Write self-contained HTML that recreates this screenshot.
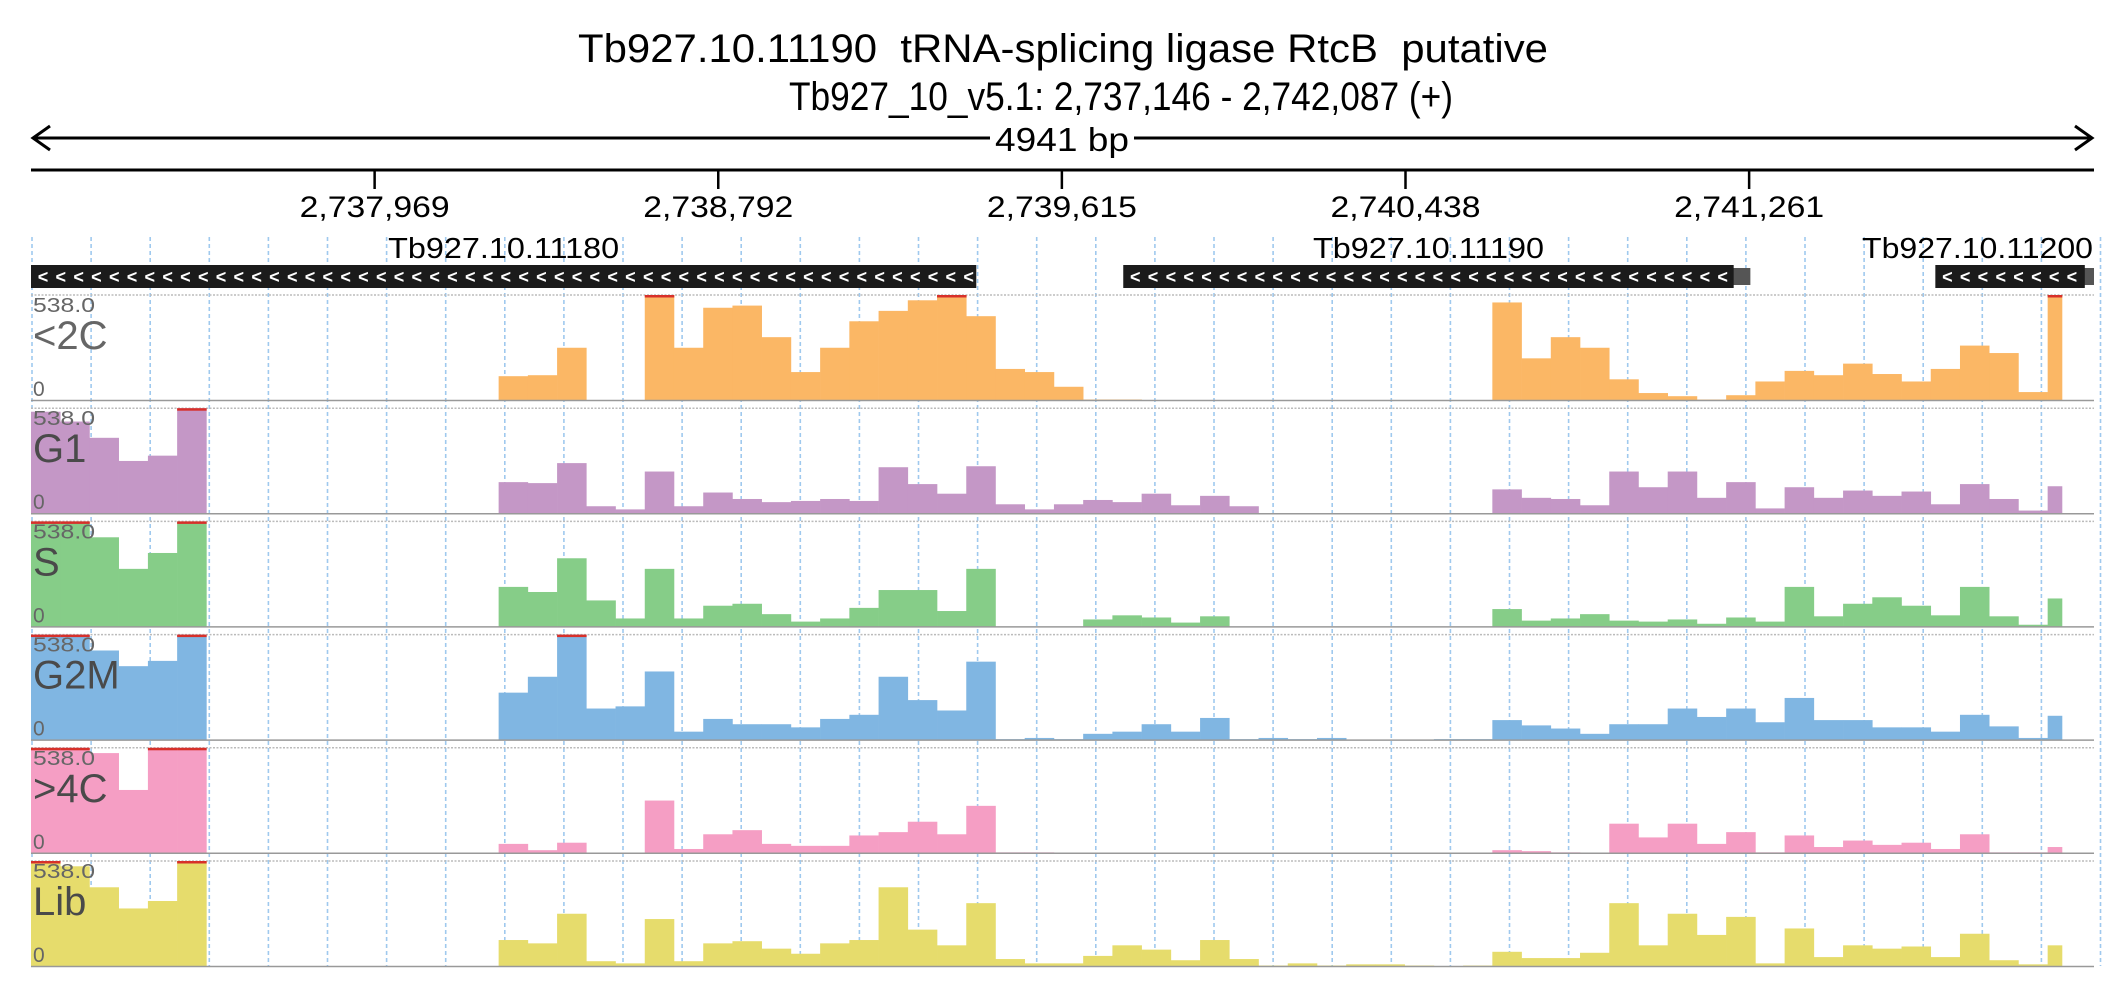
<!DOCTYPE html>
<html><head><meta charset="utf-8">
<style>
html,body{margin:0;padding:0;background:#fff;}
svg{display:block;font-family:"Liberation Sans",sans-serif;}
</style></head>
<body>
<svg id="chart" width="2126" height="1000" viewBox="0 0 2126 1000" xmlns="http://www.w3.org/2000/svg">
  <text x="1063" y="62" text-anchor="middle" font-size="40" textLength="970" lengthAdjust="spacingAndGlyphs" fill="#000" style="white-space:pre">Tb927.10.11190  tRNA-splicing ligase RtcB  putative</text>
  <text x="1121" y="110" text-anchor="middle" font-size="40" textLength="664" lengthAdjust="spacingAndGlyphs" fill="#000">Tb927_10_v5.1: 2,737,146 - 2,742,087 (+)</text>
  <g>
    <line x1="33" y1="138" x2="2092" y2="138" stroke="#000" stroke-width="3"/>
    <polyline points="50,126 33,138 50,150" fill="none" stroke="#000" stroke-width="3"/>
    <polyline points="2075,126 2092,138 2075,150" fill="none" stroke="#000" stroke-width="3"/>
    <rect x="990" y="118" width="144" height="40" fill="#fff"/>
    <text x="1062" y="151" text-anchor="middle" font-size="33" textLength="134" lengthAdjust="spacingAndGlyphs">4941 bp</text>
  </g>
  <g id="axis"></g>
  <g id="grid"></g>
  <g id="genes"></g>
  <g id="tracks"></g>
</svg>
<script>
const NS = "http://www.w3.org/2000/svg";
const regionStart = 2737146;
const regionEnd = 2742087;
const binSize = 70;
const axisTicks = [2737969, 2738792, 2739615, 2740438, 2741261];
const tickLabels = ["2,737,969", "2,738,792", "2,739,615", "2,740,438", "2,741,261"];
const geneNames = ["Tb927.10.11180", "Tb927.10.11190", "Tb927.10.11200"];
const geneStarts = [2737146, 2739762, 2741707];
const geneEnds = [2739410, 2741224, 2742065];
const geneEndcaps = [0, 40, 22];
const trackNames = ["<2C", "G1", "S", "G2M", ">4C", "Lib"];
const trackMax = 538;
const trackC2 = [0,0,0,0,0,0,0,0,0,0,0,0,0,0,0,0,124,129,269,0,0,620,269,473,484,323,145,269,404,457,511,620,430,161,145,70,5,5,0,0,0,0,0,0,0,0,0,0,0,0,500,215,323,269,108,38,22,5,27,97,151,129,188,135,97,161,280,242,43,620,0];
const trackG1 = [520,470,387,269,296,620,0,0,0,0,0,0,0,0,0,0,161,156,258,38,22,215,38,108,75,59,65,75,65,237,151,102,242,48,22,48,70,59,102,43,91,38,0,0,0,0,0,0,0,0,124,81,75,43,215,135,215,81,161,27,135,81,118,91,113,48,151,75,16,140,0];
const trackS = [620,620,457,296,377,620,0,0,0,0,0,0,0,0,0,0,204,178,350,135,43,296,43,108,118,65,27,43,97,188,188,81,296,0,0,0,38,59,48,22,54,0,0,0,0,0,0,0,0,0,91,32,43,65,32,27,38,16,48,27,204,54,118,151,108,59,204,54,11,145,0];
const trackG2M = [620,620,457,377,404,620,0,0,0,0,0,0,0,0,0,0,242,323,620,161,172,350,43,108,81,81,65,108,129,323,204,151,400,5,11,5,32,43,81,43,113,5,11,5,11,0,0,0,5,5,102,75,59,32,81,81,161,118,161,91,215,102,102,65,65,43,129,70,11,124,0];
const trackC4 = [620,620,511,323,620,620,0,0,0,0,0,0,0,0,0,0,48,16,54,0,0,269,22,97,118,48,38,38,91,108,161,97,242,5,5,0,0,0,0,0,0,0,0,0,0,0,0,0,0,0,16,11,5,0,151,81,151,48,108,5,91,32,65,43,54,22,97,5,5,32,0];
const trackLib = [620,511,404,296,334,620,0,0,0,0,0,0,0,0,0,0,135,118,269,27,16,242,27,118,129,91,65,118,135,404,188,108,323,38,16,16,54,108,86,32,135,38,5,16,5,11,11,5,0,5,75,43,43,70,323,108,269,161,253,16,194,48,108,91,102,48,167,32,11,108,0];
const trackData = [trackC2, trackG1, trackS, trackG2M, trackC4, trackLib];
const trackColors = ["#fbb765", "#c497c6", "#86cd88", "#80b6e2", "#f59ec4", "#e6dc6c"];
const trackIds = ["lt2c", "g1", "s", "g2m", "gt4c", "lib"];

const X0 = 31, X1 = 2094, DATA_END = 2062;
function xs(bp){ return X0 + (bp - regionStart) * (X1 - X0) / (regionEnd - regionStart); }
function mk(tag, attrs, parent){
  const e = document.createElementNS(NS, tag);
  for (const k in attrs) e.setAttribute(k, attrs[k]);
  parent.appendChild(e); return e;
}

const axis = document.getElementById('axis');
const axLine = mk('line', {x1:X0, y1:170, x2:X1, y2:170, stroke:'#000', 'stroke-width':3}, axis);


axisTicks.forEach((t, i) => {
  const x = xs(t);
  const tk = mk('line', {x1:x, y1:170, x2:x, y2:189, stroke:'#000', 'stroke-width':2.5}, axis);
  
  
  const lb = mk('text', {x:x, y:217, 'text-anchor':'middle', 'font-size':30, textLength:150, lengthAdjust:'spacingAndGlyphs'}, axis);
  lb.textContent = tickLabels[i];
  
  
});

const grid = document.getElementById('grid');
for (let n = 0; n <= 35; n++) {
  const x = 32 + n * 59.1;
  const gl = mk('line', {x1:x, y1:237, x2:x, y2:966, stroke:'#9fc9ee', 'stroke-width':1.6, 'stroke-dasharray':'4,3'}, grid);
  
  
}

const genes = document.getElementById('genes');
geneNames.forEach((name, i) => {
  const gx0 = xs(geneStarts[i]), gx1 = xs(geneEnds[i]);
  const g = mk('g', {}, genes);
  
  
  if (geneEndcaps[i] > 0) mk('rect', {x:gx1 - 2, y:268, width:geneEndcaps[i]*0.4174 + 2, height:17, fill:'#555'}, g);
  mk('rect', {x:gx0, y:265, width:gx1 - gx0, height:23, fill:'#1b1b1b'}, g);
  for (let cx = gx0 + 12; cx < gx1 - 4; cx += 17.8) {
    const c = mk('text', {x:cx, y:283, 'font-size':18, 'font-weight':'bold', fill:'#fff', 'text-anchor':'middle'}, g);
    c.textContent = '<';
  }
  let lx = (gx0 + gx1) / 2, anchor = 'middle';
  if (i === 2) { lx = 2093; anchor = 'end'; }
  const lbl = mk('text', {x:lx, y:258, 'text-anchor':anchor, 'font-size':29, textLength:231, lengthAdjust:'spacingAndGlyphs'}, g);
  lbl.textContent = name;
  
  
});

const tracks = document.getElementById('tracks');
trackData.forEach((vals, k) => {
  const top = 295 + k * 113.2, H = 105.5, base = top + H;
  const g = mk('g', {}, tracks);
  
  
  mk('line', {x1:X0, y1:top, x2:X1, y2:top, stroke:'#bbb', 'stroke-width':1.5, 'stroke-dasharray':'2,1.5'}, g);
  const y = v => base - Math.min(v, trackMax) / trackMax * H;
  vals.forEach((v, i) => {
    if (v <= 0) return;
    const bx0 = xs(regionStart + i * binSize);
    const bx1 = Math.min(xs(regionStart + (i + 1) * binSize), DATA_END);
    if (bx1 <= bx0) return;
    const r = mk('rect', {x:bx0, y:y(v), width:bx1 - bx0 + 0.3, height:base - y(v), fill:trackColors[k]}, g);
    
    
    if (v > trackMax) {
      const cl = mk('rect', {x:bx0, y:top, width:bx1 - bx0 + 0.3, height:2.5, fill:'#d7302a'}, g);
      
      
    }
  });
  mk('line', {x1:X0, y1:base, x2:X1, y2:base, stroke:'#999', 'stroke-width':1.5}, g);
  const mx = mk('text', {x:33, y:top + 17, 'font-size':20, fill:'#666', textLength:62, lengthAdjust:'spacingAndGlyphs'}, g);
  mx.textContent = trackMax.toFixed(1);
  
  
  const nm = mk('text', {x:33, y:top + 54, 'font-size':40, fill: k === 0 ? '#666' : '#4a4a4a'}, g);
  nm.textContent = trackNames[k];
  
  
  const zr = mk('text', {x:33, y:top + 101, 'font-size':21, fill:'#666'}, g);
  zr.textContent = '0';
  
  
});
</script>
</body></html>
